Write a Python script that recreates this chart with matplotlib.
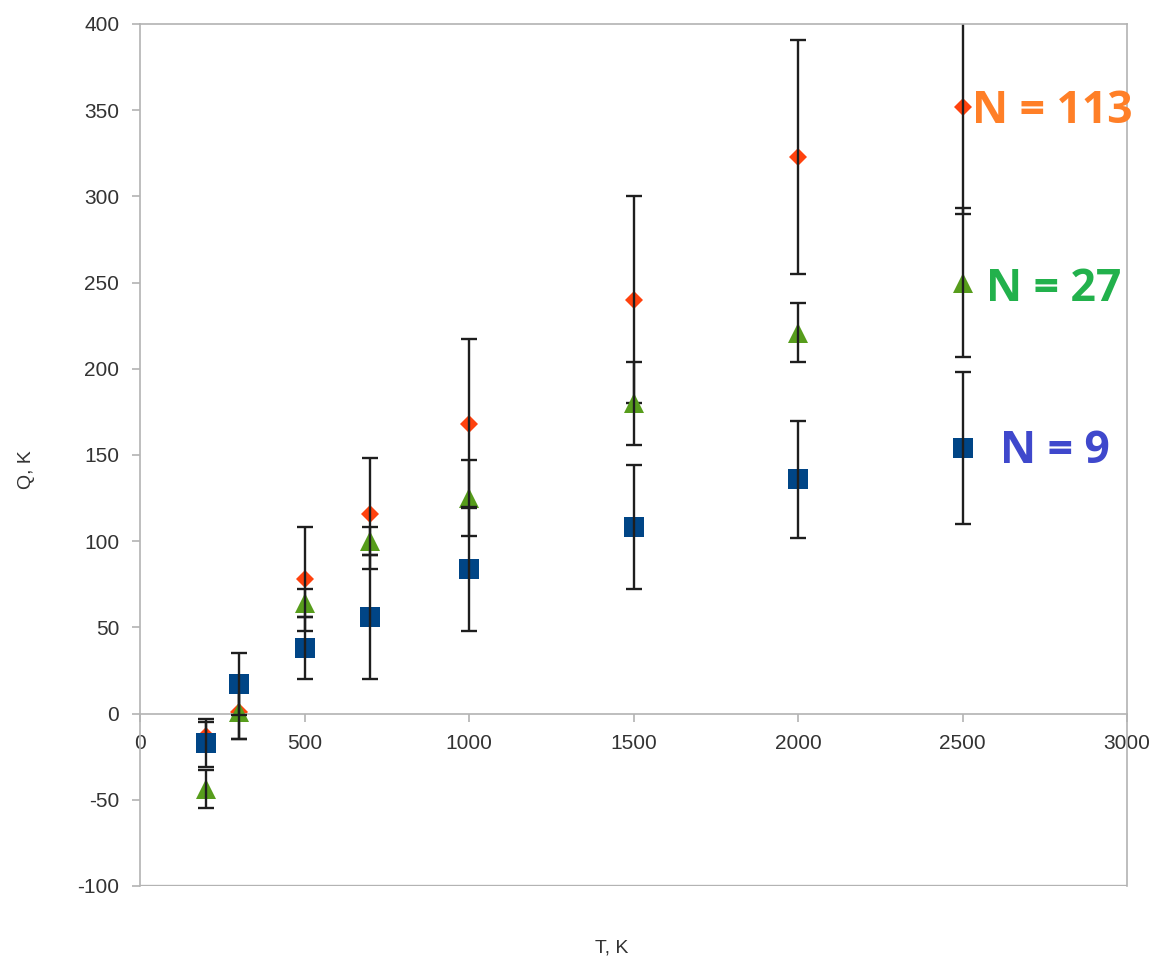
import numpy as np
import matplotlib
matplotlib.use('Agg')
import matplotlib.pyplot as plt

plt.rcParams['font.family'] = ['Liberation Sans', 'DejaVu Sans']
plt.rcParams['axes.unicode_minus'] = False

# data
T = [200, 300, 500, 700, 1000, 1500, 2000, 2500]

q113 = [-13, 1, 78, 116, 168, 240, 323, 352]          # N = 113
q113_err = [8, 16, 30, 32, 49, 60, 68, 62]

q27 = [-44, 1, 64, 100, 125, 180, 221, 250]           # N = 27
q27_err = [11, 16, 8, 8, 22, 24, 17, 43]

q9 = [-17, 17, 38, 56, 84, 108, 136, 154]             # N = 9
q9_err = [14, 18, 18, 36, 36, 36, 34, 44]

labels = ['N = 113', 'N = 27', 'N = 9']
label_pos = [(2530, 349), (2570, 246), (2615, 152)]
label_colors = ['#ff7f27', '#22b14c', '#3f48cc']

fig = plt.figure(figsize=(11.59, 9.6), dpi=100)
ax = fig.add_axes([0.1208, 0.0771, 0.8516, 0.8979])

series = [
    (q113, q113_err, '#ff420e', 'D', 9),
    (q27, q27_err, '#579d1c', '^', 14),
    (q9, q9_err, '#004586', 's', 15),
]
z = 2
for vals, errs, col, mk, ms in series:
    ax.plot(T, vals, linestyle='none', marker=mk, markersize=ms, color=col,
            markeredgewidth=0, zorder=z)
    ax.errorbar(T, vals, yerr=errs, fmt='none', ecolor='#1e1e1e', elinewidth=1.7,
                capsize=6, capthick=1.7, zorder=z + 0.5)
    z += 1

for txt, (px, py), col in zip(labels, label_pos, label_colors):
    ax.text(px, py, txt, color=col, fontsize=32, fontweight='bold',
            family='Open Sans', ha='left', va='center', zorder=10)

ax.set_xlim(0, 3000)
ax.set_ylim(-100, 400)
ax.set_xticks(np.arange(0, 3001, 500))
ax.set_yticks(np.arange(-100, 401, 50))

grey = '#b3b3b3'
ax.spines['bottom'].set_position(('data', 0))
for s in ax.spines.values():
    s.set_color(grey)
    s.set_linewidth(1.2)
ax.axhline(-100, color=grey, lw=2.4, zorder=1)
ax.tick_params(axis='both', colors=grey, labelcolor='#333333', labelsize=15,
               length=6, width=1.2, direction='out')
ax.tick_params(axis='y', pad=9)
ax.tick_params(axis='x', pad=9)

ax.set_xlabel('T, K', fontsize=14, color='#333333')
ax.set_ylabel('Q, K', fontsize=14, color='#333333')
ax.xaxis.set_label_coords(0.478, -0.062)
ax.yaxis.set_label_coords(-0.106, 0.483)

fig.savefig('out.png', dpi=100)
